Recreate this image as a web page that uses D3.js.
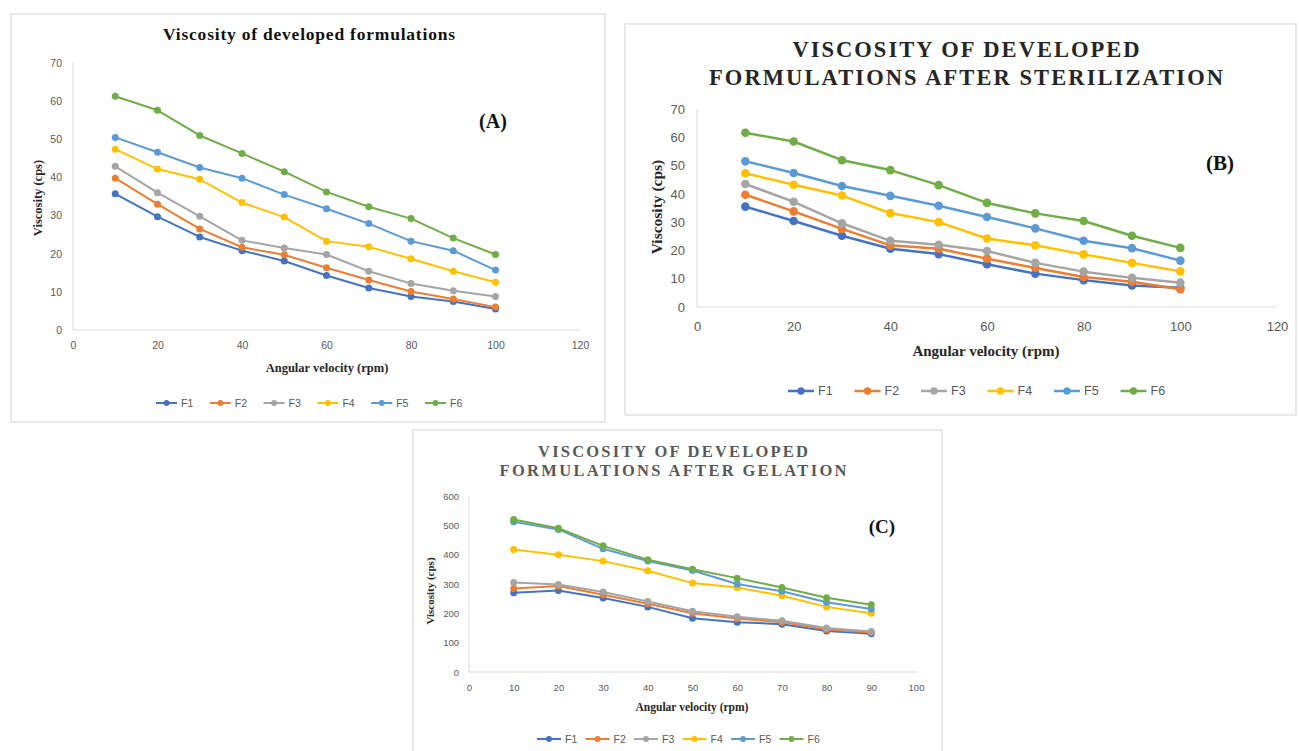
<!DOCTYPE html>
<html>
<head>
<meta charset="utf-8">
<script src="https://cdn.jsdelivr.net/npm/d3@7/dist/d3.min.js"></script>
<style>
  body { margin: 0; background: #fff; }
  .tick text { fill: #595959; font-family: "Liberation Sans", Arial, sans-serif; }
  .domain { stroke: #d9d9d9; }
</style>
</head>
<body>
<svg width="1299" height="751"></svg>
<script>
// series names and Excel default colours
var names = ["F1", "F2", "F3", "F4", "F5", "F6"];
var colors = ["#4472c4", "#ed7d31", "#a5a5a5", "#ffc000", "#5b9bd5", "#70ad47"];

// angular velocity (rpm)
var rpmAB = [10, 20, 30, 40, 50, 60, 70, 80, 90, 100];
var rpmC = [10, 20, 30, 40, 50, 60, 70, 80, 90];

// (A) viscosity of developed formulations, cps
var viscA = [
  [35.7, 29.7, 24.4, 20.8, 18.1, 14.3, 11.0, 8.8, 7.5, 5.5],
  [39.8, 33.0, 26.5, 21.7, 19.7, 16.3, 13.1, 10.1, 8.1, 6.0],
  [42.9, 36.0, 29.8, 23.5, 21.5, 19.8, 15.4, 12.2, 10.3, 8.8],
  [47.4, 42.2, 39.5, 33.4, 29.6, 23.3, 21.8, 18.7, 15.4, 12.5],
  [50.5, 46.6, 42.6, 39.8, 35.5, 31.8, 27.9, 23.3, 20.8, 15.7],
  [61.3, 57.6, 51.0, 46.3, 41.5, 36.2, 32.3, 29.2, 24.1, 19.8]
];

// (B) after sterilization
var viscB = [
  [35.5, 30.4, 25.2, 20.6, 18.7, 15.1, 11.8, 9.5, 7.6, 6.8],
  [39.7, 33.8, 27.6, 21.8, 20.6, 17.1, 13.8, 10.6, 8.9, 6.3],
  [43.5, 37.2, 29.6, 23.4, 22.0, 19.8, 15.6, 12.5, 10.3, 8.6],
  [47.3, 43.2, 39.4, 33.2, 30.0, 24.2, 21.8, 18.6, 15.6, 12.6],
  [51.5, 47.4, 42.8, 39.3, 35.8, 31.8, 27.8, 23.4, 20.8, 16.4],
  [61.6, 58.5, 51.9, 48.4, 43.1, 36.8, 33.1, 30.4, 25.2, 20.9]
];

// (C) after gelation
var viscC = [
  [270, 278, 252, 222, 183, 170, 163, 140, 130],
  [285, 293, 263, 233, 200, 182, 170, 145, 135],
  [305, 298, 273, 240, 207, 188, 175, 150, 138],
  [418, 400, 378, 345, 303, 288, 260, 222, 200],
  [512, 486, 420, 378, 346, 300, 275, 238, 215],
  [520, 490, 430, 383, 350, 320, 288, 253, 229]
];

// tick labels
var xTicksAB = [0, 20, 40, 60, 80, 100, 120];
var yTicksAB = [0, 10, 20, 30, 40, 50, 60, 70];
var xTicksC = [0, 10, 20, 30, 40, 50, 60, 70, 80, 90, 100];
var yTicksC = [0, 100, 200, 300, 400, 500, 600];

var titleA = ["Viscosity of developed formulations"];
var titleB = ["VISCOSITY OF DEVELOPED", "FORMULATIONS AFTER STERILIZATION"];
var titleC = ["VISCOSITY OF DEVELOPED", "FORMULATIONS AFTER GELATION"];

var svg = d3.select("svg");
var serif = "'Liberation Serif', 'Times New Roman', serif";

function panel(o) {
  var g = svg.append("g");

  // chart frame
  g.append("rect")
    .attr("x", o.frame[0]).attr("y", o.frame[1])
    .attr("width", o.frame[2]).attr("height", o.frame[3])
    .attr("fill", "#fff").attr("stroke", "#d9d9d9").attr("stroke-width", 1.2);

  var x = d3.scaleLinear().domain([0, o.xTicks[o.xTicks.length - 1]]).range(o.xr);
  var y = d3.scaleLinear().domain([0, o.yTicks[o.yTicks.length - 1]]).range(o.yr);

  var xa = g.append("g").attr("transform", "translate(0," + o.yr[0] + ")")
    .call(d3.axisBottom(x).tickValues(o.xTicks).tickSize(0).tickPadding(o.pad[0]));
  var ya = g.append("g").attr("transform", "translate(" + o.xr[0] + ",0)")
    .call(d3.axisLeft(y).tickValues(o.yTicks).tickSize(0).tickPadding(o.pad[1]));
  xa.selectAll(".tick text").style("font-size", o.tickFont + "px");
  ya.selectAll(".tick text").style("font-size", o.tickFont + "px");
  ya.select(".domain").attr("d", "M0," + o.yr[0] + "V" + o.yr[1]);
  xa.select(".domain").attr("d", "M" + o.xr[0] + ",0H" + o.xr[1]);

  var line = d3.line()
    .x(function (d, i) { return x(o.rpm[i]); })
    .y(function (d) { return y(d); });

  o.data.forEach(function (s, k) {
    g.append("path").datum(s)
      .attr("d", line)
      .attr("fill", "none")
      .attr("stroke", colors[k])
      .attr("stroke-width", o.lw)
      .attr("stroke-linejoin", "round");
    g.selectAll(null).data(s).enter().append("circle")
      .attr("cx", function (d, i) { return x(o.rpm[i]); })
      .attr("cy", function (d) { return y(d); })
      .attr("r", o.r)
      .attr("fill", colors[k]);
  });

  // title lines, letter-spaced to the width seen in the picture
  o.title.forEach(function (t, i) {
    g.append("text")
      .attr("x", o.titlePos[0]).attr("y", o.titlePos[1] + i * o.titleGap)
      .attr("text-anchor", "middle")
      .attr("textLength", o.titleLen[i]).attr("lengthAdjust", "spacing")
      .style("font-family", serif).style("font-weight", "bold")
      .style("font-size", o.titleFont + "px").style("fill", o.titleColor)
      .text(t);
  });

  // panel letter
  g.append("text")
    .attr("x", o.tag[0]).attr("y", o.tag[1])
    .attr("text-anchor", "middle")
    .style("font-family", serif).style("font-weight", "bold")
    .style("font-size", o.tagFont + "px").style("fill", "#111")
    .text(o.tagText);

  // axis titles
  g.append("text")
    .attr("x", o.xLab[0]).attr("y", o.xLab[1])
    .attr("text-anchor", "middle")
    .style("font-family", serif).style("font-weight", "bold")
    .style("font-size", o.labFont + "px").style("fill", "#262626")
    .text("Angular velocity (rpm)");
  g.append("text")
    .attr("transform", "translate(" + o.yLab[0] + "," + o.yLab[1] + ") rotate(-90)")
    .attr("text-anchor", "middle")
    .style("font-family", serif).style("font-weight", "bold")
    .style("font-size", o.yLabFont + "px").style("fill", "#262626")
    .text("Viscosity (cps)");

  // legend
  var lg = g.append("g").attr("transform", "translate(" + o.leg[0] + "," + o.leg[1] + ")");
  names.forEach(function (n, k) {
    var it = lg.append("g").attr("transform", "translate(" + (k * o.legStep) + ",0)");
    it.append("line").attr("x1", 0).attr("x2", o.legLine)
      .attr("stroke", colors[k]).attr("stroke-width", o.lw);
    it.append("circle").attr("cx", o.legLine / 2).attr("r", o.r * 0.85).attr("fill", colors[k]);
    it.append("text").attr("x", o.legLine + 4).attr("dy", "0.35em")
      .style("font-family", "'Liberation Sans', Arial, sans-serif")
      .style("font-size", o.legFont + "px").style("fill", "#595959")
      .text(n);
  });
}

panel({
  frame: [11, 14, 594, 408],
  xr: [73, 580], yr: [330, 63],
  rpm: rpmAB, data: viscA, xTicks: xTicksAB, yTicks: yTicksAB,
  pad: [12, 11], tickFont: 10.5, lw: 2, r: 3.5,
  title: titleA, titlePos: [309, 40], titleGap: 0, titleLen: [292], titleFont: 17.5, titleColor: "#111",
  tag: [493, 128], tagText: "(A)", tagFont: 20,
  xLab: [327, 372], yLab: [42, 198], labFont: 12.5, yLabFont: 12.5,
  leg: [156, 403], legStep: 53.8, legLine: 21, legFont: 10.5
});

panel({
  frame: [625, 24, 671, 391],
  xr: [697, 1277], yr: [307, 109],
  rpm: rpmAB, data: viscB, xTicks: xTicksAB, yTicks: yTicksAB,
  pad: [15, 12], tickFont: 13, lw: 2.5, r: 4.3,
  title: titleB, titlePos: [966, 57], titleGap: 28, titleLen: [347, 514], titleFont: 22.5, titleColor: "#262626",
  tag: [1220, 170], tagText: "(B)", tagFont: 21,
  xLab: [986, 356], yLab: [662, 207], labFont: 15, yLabFont: 15.5,
  leg: [788, 391], legStep: 66.5, legLine: 26, legFont: 12.5
});

panel({
  frame: [413, 430, 529, 330],
  xr: [469, 916], yr: [672, 496],
  rpm: rpmC, data: viscC, xTicks: xTicksC, yTicks: yTicksC,
  pad: [12, 10], tickFont: 9.5, lw: 2, r: 3.5,
  title: titleC, titlePos: [673, 457], titleGap: 18.5, titleLen: [270, 347], titleFont: 16.5, titleColor: "#595959",
  tag: [882, 533], tagText: "(C)", tagFont: 19,
  xLab: [692, 711], yLab: [434, 591], labFont: 11.5, yLabFont: 11,
  leg: [537, 739], legStep: 48.5, legLine: 24, legFont: 10.5
});
</script>
</body>
</html>
